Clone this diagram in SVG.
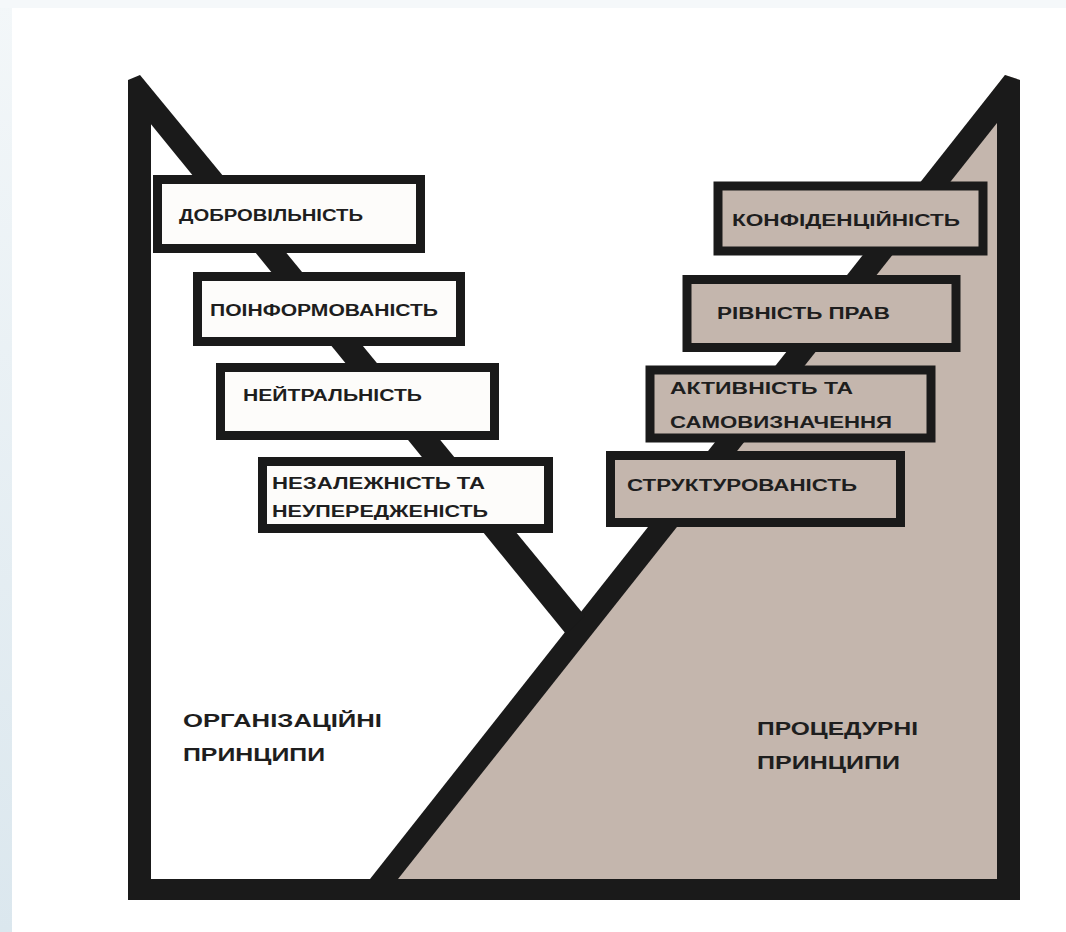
<svg xmlns="http://www.w3.org/2000/svg" width="1066" height="932" viewBox="0 0 1066 932">
<style>
.wbox{fill:#fdfcfa;stroke:#1a1a1a;stroke-width:9}
.tbox{fill:#c4b6ad;stroke:#1a1a1a;stroke-width:9}
.ink{fill:#1a1a1a}
.lbl{font-family:"Liberation Sans",Arial,sans-serif;font-weight:bold;font-size:16px;fill:#1e1e1e}
.big{font-family:"Liberation Sans",Arial,sans-serif;font-weight:bold;font-size:19px;fill:#1e1e1e}
</style>
<defs>
<linearGradient id="bg" x1="0" y1="0" x2="0" y2="1">
<stop offset="0" stop-color="#f3f7f9"/>
<stop offset="1" stop-color="#dbe7ee"/>
</linearGradient>
</defs>
<rect x="0" y="0" width="1066" height="932" fill="url(#bg)"/>
<rect x="0" y="0" width="1066" height="8" fill="#f5f8fa"/>
<rect x="12" y="8" width="1054" height="924" fill="#ffffff"/>
<g id="frame">
<polygon points="1005,75 1020,80 1020,900 370,900" fill="#c4b6ad"/>
<polygon class="ink" points="1005,75 1020,80 1020,94 398,879 370,879"/>
<polygon class="ink" points="128,80 140,75 585,616 566,634 128,96"/>
<rect class="ink" x="128" y="88" width="23" height="812"/>
<rect class="ink" x="997" y="85" width="23" height="815"/>
<rect class="ink" x="128" y="879" width="892" height="21"/>
</g>
<g id="connectors"></g>
<g id="n1"><rect class="wbox" x="157.5" y="179.5" width="263" height="69"/>
<text class="lbl" x="179" y="221" textLength="184" lengthAdjust="spacingAndGlyphs">ДОБРОВІЛЬНІСТЬ</text></g>
<g id="n2"><rect class="wbox" x="197.5" y="276.5" width="263" height="65"/>
<text class="lbl" x="210" y="316" textLength="228" lengthAdjust="spacingAndGlyphs">ПОІНФОРМОВАНІСТЬ</text></g>
<g id="n3"><rect class="wbox" x="220.5" y="367.5" width="274" height="68"/>
<text class="lbl" x="243" y="401" textLength="179" lengthAdjust="spacingAndGlyphs">НЕЙТРАЛЬНІСТЬ</text></g>
<g id="n4"><rect class="wbox" x="262.5" y="461.5" width="286" height="67"/>
<text class="lbl" x="272" y="489" textLength="213" lengthAdjust="spacingAndGlyphs">НЕЗАЛЕЖНІСТЬ   ТА</text>
<text class="lbl" x="272" y="517" textLength="216" lengthAdjust="spacingAndGlyphs">НЕУПЕРЕДЖЕНІСТЬ</text></g>
<g id="n5"><rect class="tbox" x="718" y="186" width="265" height="65"/>
<text class="lbl" x="732" y="226" textLength="228" lengthAdjust="spacingAndGlyphs">КОНФІДЕНЦІЙНІСТЬ</text></g>
<g id="n6"><rect class="tbox" x="687" y="279.5" width="269" height="68"/>
<text class="lbl" x="717" y="319" textLength="173" lengthAdjust="spacingAndGlyphs">РІВНІСТЬ   ПРАВ</text></g>
<g id="n7"><rect class="tbox" x="650" y="370" width="281" height="68"/>
<text class="lbl" x="670" y="394" textLength="183" lengthAdjust="spacingAndGlyphs">АКТИВНІСТЬ   ТА</text>
<text class="lbl" x="670" y="428" textLength="222" lengthAdjust="spacingAndGlyphs">САМОВИЗНАЧЕННЯ</text></g>
<g id="n8"><rect class="tbox" x="610.5" y="455.5" width="290" height="67"/>
<text class="lbl" x="627" y="491" textLength="230" lengthAdjust="spacingAndGlyphs">СТРУКТУРОВАНІСТЬ</text></g>
<g id="org"><text class="big" x="183" y="727" textLength="199" lengthAdjust="spacingAndGlyphs">ОРГАНІЗАЦІЙНІ</text>
<text class="big" x="183" y="761" textLength="142" lengthAdjust="spacingAndGlyphs">ПРИНЦИПИ</text></g>
<g id="proc"><text class="big" x="757" y="735" textLength="161" lengthAdjust="spacingAndGlyphs">ПРОЦЕДУРНІ</text>
<text class="big" x="757" y="769" textLength="143" lengthAdjust="spacingAndGlyphs">ПРИНЦИПИ</text></g>
</svg>
